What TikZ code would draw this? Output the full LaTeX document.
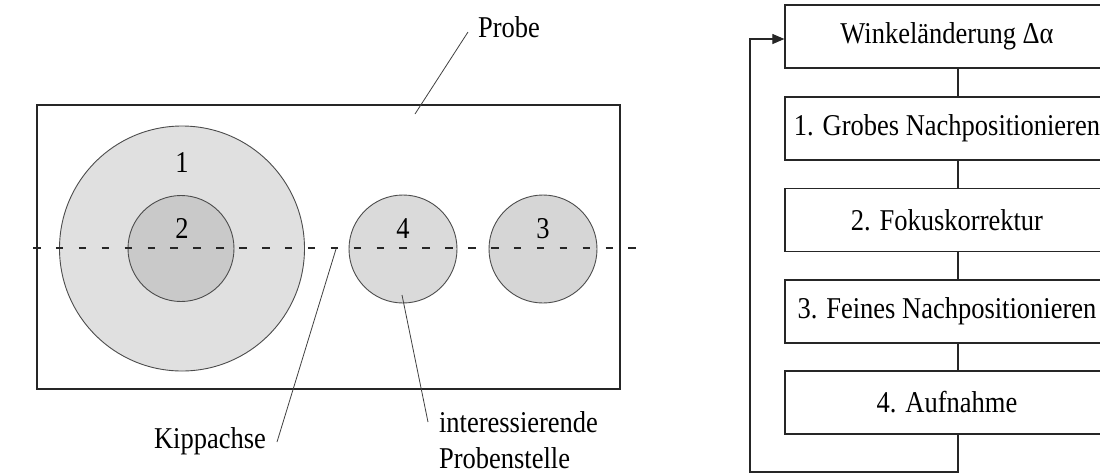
\documentclass[tikz,border=0pt]{standalone}
\usepackage{fontspec}
\setmainfont{Liberation Serif}
\usetikzlibrary{arrows.meta,calc}
% lettering is set slightly taller than the font's natural proportions
\newcommand{\tall}[1]{\scalebox{1}[1.14]{#1}}
\begin{document}
\begin{tikzpicture}[x=0.5pt,y=-0.5pt,
  font=\fontsize{13.25}{16}\selectfont,
  outline/.style={draw=black!85, line width=0.7pt},
  spot/.style={circle, draw=black!70, line width=0.45pt, inner sep=0pt},
  axis/.style={draw=black!85, line width=0.65pt, dash pattern=on 3.75pt off 7.7pt},
  leader/.style={draw=black!75, line width=0.4pt},
  stepbox/.style={draw=black!85, line width=0.6pt, minimum width=162pt,
                  minimum height=31.5pt, inner sep=0pt},
  link/.style={draw=black!85, line width=0.55pt}]
\clip (0,0) rectangle (1100,473);

% sample plate with the measuring spots
\node[outline, minimum width=291.5pt, minimum height=142pt, inner sep=0pt] (plate) at (328.5,247) {};
\node[spot, fill=gray!24, minimum size=122.5pt] (c1) at (182,248.5) {};
\node[spot, fill=gray!42, minimum size=53pt] (c2) at (181,248.5) {};
\node[spot, fill=gray!29, minimum size=54pt] (c4) at (403,249) {};
\node[spot, fill=gray!32, minimum size=54pt] (c3) at (543,249) {};

\node[anchor=base] (n1) at (182,172) {\tall{1}};
\node[anchor=base] (n2) at (182,238) {\tall{2}};
\node[anchor=base] (n4) at (403,238) {\tall{4}};
\node[anchor=base] (n3) at (543,238) {\tall{3}};

% tilt axis
\coordinate (axL) at (33,248);
\coordinate (axR) at (647,248);
\draw[axis] (axL) -- (axR);

% labels with leader lines
\node[anchor=base west] (probe) at (471,37) {\tall{Probe}};
\node[anchor=base east] (kipp) at (273,448) {\tall{Kippachse}};
\node[anchor=base west] (stelle) at (432,432) {\tall{interessierende}};
\node[anchor=base west] (stelle2) at (432,468) {\tall{Probenstelle}};

\coordinate (pA) at (415,114);
\coordinate (pB) at (468,32);
\draw[leader] (pA) -- (pB);
\coordinate (kA) at (336,249);
\coordinate (kB) at (277,442);
\draw[leader] (kA) -- (kB);
\coordinate (sA) at (402,295);
\coordinate (sB) at (428,422);
\draw[leader] (sA) -- (sB);

% process loop
\node[stepbox] (w) at (947,36.5) {\tall{Winkeländerung Δα}};
\node[stepbox] (g) at (947,128.5) {\tall{1. Grobes Nachpositionieren}};
\node[stepbox] (f) at (947,220) {\tall{2. Fokuskorrektur}};
\node[stepbox] (e) at (947,311.5) {\tall{3. Feines Nachpositionieren}};
\node[stepbox] (a) at (947,402.5) {\tall{4. Aufnahme}};

\coordinate (cx) at (958,0);
\draw[link] (w.south -| cx) -- (g.north -| cx);
\draw[link] (g.south -| cx) -- (f.north -| cx);
\draw[link] (f.south -| cx) -- (e.north -| cx);
\draw[link] (e.south -| cx) -- (a.north -| cx);

\coordinate (fbR) at (958,472);
\coordinate (fbL) at (750,472);
\coordinate (fbT) at (750,39);
\draw[link, -{Triangle[length=6pt, width=5pt]}]
  (a.south -| cx) -- (fbR) -- (fbL) -- (fbT) -- (fbT -| w.west);
\end{tikzpicture}
\end{document}
